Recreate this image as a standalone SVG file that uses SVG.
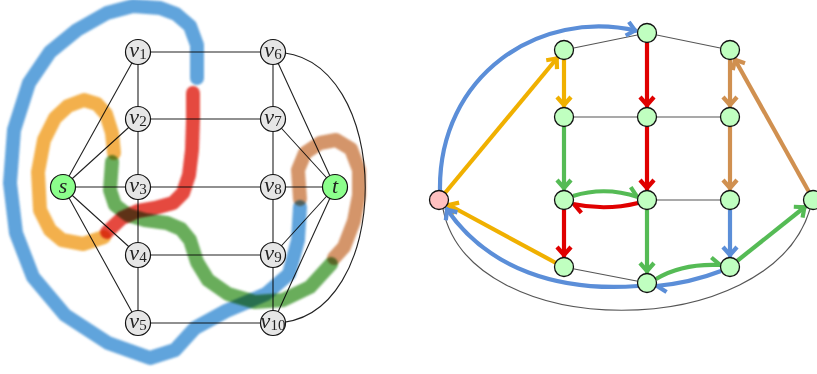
<svg xmlns="http://www.w3.org/2000/svg" width="817" height="374" viewBox="0 0 817 374">
<style>
.e{stroke:#222;stroke-width:1.1;fill:none}
.g{stroke:#555;stroke-width:1.2;fill:none}
.nl{fill:#e6e6e6;stroke:#111;stroke-width:1.2}
.nst{fill:#8cff8c;stroke:#111;stroke-width:1.2}
.nr{fill:#c0ffc0;stroke:#111;stroke-width:1.3}
.np{fill:#ffc0c0;stroke:#111;stroke-width:1.3}
.lb{font-family:"Liberation Serif",serif;font-style:italic;font-size:22px;fill:#222}
.sb{font-style:normal;font-size:15px}
.hl{fill:none;stroke-width:14;stroke-linecap:round;stroke-linejoin:round;mix-blend-mode:multiply;filter:url(#soft);opacity:0.9}
.a{fill:none;stroke-width:4.2}
.mk{fill:none;stroke-width:4.2;stroke-linecap:butt;stroke-linejoin:miter}
</style>
<defs>
<filter id="soft" x="-20%" y="-20%" width="140%" height="140%"><feGaussianBlur stdDeviation="1.1"/></filter>
<marker id="mB" markerUnits="userSpaceOnUse" orient="auto" overflow="visible" markerWidth="1" markerHeight="1"><path class="mk" stroke="#5b8ed8" d="M-10,-7 L-2,0 L-10,7"/></marker>
<marker id="mO" markerUnits="userSpaceOnUse" orient="auto" overflow="visible" markerWidth="1" markerHeight="1"><path class="mk" stroke="#f0b000" d="M-10,-7 L-2,0 L-10,7"/></marker>
<marker id="mR" markerUnits="userSpaceOnUse" orient="auto" overflow="visible" markerWidth="1" markerHeight="1"><path class="mk" stroke="#e00000" d="M-10,-7 L-2,0 L-10,7"/></marker>
<marker id="mG" markerUnits="userSpaceOnUse" orient="auto" overflow="visible" markerWidth="1" markerHeight="1"><path class="mk" stroke="#55bb55" d="M-10,-7 L-2,0 L-10,7"/></marker>
<marker id="mN" markerUnits="userSpaceOnUse" orient="auto" overflow="visible" markerWidth="1" markerHeight="1"><path class="mk" stroke="#d09050" d="M-10,-7 L-2,0 L-10,7"/></marker>
<marker id="hG" markerUnits="userSpaceOnUse" orient="auto" overflow="visible" markerWidth="1" markerHeight="1"><path class="mk" stroke="#55bb55" d="M-10,-7 L-1,0"/></marker>
<marker id="hR" markerUnits="userSpaceOnUse" orient="auto" overflow="visible" markerWidth="1" markerHeight="1"><path class="mk" stroke="#e00000" d="M-10,-7 L-1,0"/></marker>
<marker id="hB" markerUnits="userSpaceOnUse" orient="auto" overflow="visible" markerWidth="1" markerHeight="1"><path class="mk" stroke="#5b8ed8" d="M-10,-7 L-1,0"/></marker>
</defs>
<rect width="817" height="374" fill="#fff"/>

<!-- LEFT GRAPH -->
<g id="left-edges">
<path class="e" d="M63,187 L138,52 M63,187 L138,119 M63,187 L138,187 M63,187 L138,255 M63,187 L138,323"/>
<path class="e" d="M138,52 V323 M273,52 V323"/>
<path class="e" d="M138,52 H273 M138,119 H273 M138,187 H273 M138,255 H273 M138,323 H273"/>
<path class="e" d="M335,187 L273,52 M335,187 L273,119 M335,187 L273,187 M335,187 L273,255 M335,187 L273,323"/>
<path class="e" d="M273,52 C396,52 396,323 273,323"/>
</g>
<g id="left-highlights">
<path class="hl" stroke="#4f9ad8" d="M197,78 L197,45 L190,26 L176,14 L160,8 L133,6 L107,13 L77,30 L50,52 L29,83 L14,130 L10,183 L16,233 L33,277 L65,315 L108,343 L150,358 L175,350 L195,328 L226,311 L266,294 L289,274 L298,240 L300,207"/>
<path class="hl" stroke="#e2352a" d="M193,93 L193,120 L192,150 L189,175 L183,193 L173,203 L155,208 L138,211 L122,218 L107,232"/>
<path class="hl" stroke="#f2a838" d="M114,153 L112,133 L106,114 L97,104 L84,100 L68,106 L55,118 L44,140 L38,172 L40,210 L50,230 L62,240 L83,244 L104,237"/>
<path class="hl" stroke="#59a449" d="M112,162 L110,190 L115,205 L128,215 L145,220 L167,223 L181,229 L190,240 L197,262 L208,280 L228,294 L255,302 L283,300 L310,287 L331,264"/>
<path class="hl" stroke="#d08a5a" d="M300,199 L298,170 L305,153 L320,143 L336,140 L351,149 L359,170 L359,195 L354,221 L344,247 L334,258"/>
</g>
<g id="v1"><circle class="nl" cx="138" cy="52" r="12.5"/><text class="lb" x="138" y="57" text-anchor="middle">v<tspan class="sb" dy="2">1</tspan></text></g>
<g id="v2"><circle class="nl" cx="138" cy="119" r="12.5"/><text class="lb" x="138" y="124" text-anchor="middle">v<tspan class="sb" dy="2">2</tspan></text></g>
<g id="v3"><circle class="nl" cx="138" cy="187" r="12.5"/><text class="lb" x="138" y="192" text-anchor="middle">v<tspan class="sb" dy="2">3</tspan></text></g>
<g id="v4"><circle class="nl" cx="138" cy="255" r="12.5"/><text class="lb" x="138" y="260" text-anchor="middle">v<tspan class="sb" dy="2">4</tspan></text></g>
<g id="v5"><circle class="nl" cx="138" cy="323" r="12.5"/><text class="lb" x="138" y="328" text-anchor="middle">v<tspan class="sb" dy="2">5</tspan></text></g>
<g id="v6"><circle class="nl" cx="273" cy="52" r="12.5"/><text class="lb" x="273" y="57" text-anchor="middle">v<tspan class="sb" dy="2">6</tspan></text></g>
<g id="v7"><circle class="nl" cx="273" cy="119" r="12.5"/><text class="lb" x="273" y="124" text-anchor="middle">v<tspan class="sb" dy="2">7</tspan></text></g>
<g id="v8"><circle class="nl" cx="273" cy="187" r="12.5"/><text class="lb" x="273" y="192" text-anchor="middle">v<tspan class="sb" dy="2">8</tspan></text></g>
<g id="v9"><circle class="nl" cx="273" cy="255" r="12.5"/><text class="lb" x="273" y="260" text-anchor="middle">v<tspan class="sb" dy="2">9</tspan></text></g>
<g id="v10"><circle class="nl" cx="273" cy="323" r="12.5"/><text class="lb" x="273" y="328" text-anchor="middle">v<tspan class="sb" dy="2">10</tspan></text></g>
<g id="s"><circle class="nst" cx="63" cy="187" r="12.5"/><text class="lb" x="63" y="193" text-anchor="middle">s</text></g>
<g id="t"><circle class="nst" cx="335" cy="187" r="12.5"/><text class="lb" x="335" y="193" text-anchor="middle">t</text></g>

<!-- RIGHT GRAPH -->
<g id="right-connectors">
<path class="g" d="M564,50 L647,33 L730,50 M564,117 H730 M647,200 H730 M564,267 L647,283"/>
<path class="g" d="M443,209 C470,344 770,344 810,209"/>
<path class="a" stroke="#5b8ed8" marker-end="url(#mB)" d="M440,191 C438,75 540,8 637,31"/>
<path class="a" stroke="#f0b000" marker-end="url(#mO)" d="M445,193 L558,57"/>
<path class="a" stroke="#f0b000" marker-end="url(#mO)" d="M564,59 V107"/>
<path class="a" stroke="#e00000" marker-end="url(#mR)" d="M647,42 V107"/>
<path class="a" stroke="#d09050" marker-end="url(#mN)" d="M730,59 V107"/>
<path class="a" stroke="#55bb55" marker-end="url(#mG)" d="M564,126 V190"/>
<path class="a" stroke="#e00000" marker-end="url(#mR)" d="M647,126 V190"/>
<path class="a" stroke="#d09050" marker-end="url(#mN)" d="M730,126 V190"/>
<path class="a" stroke="#55bb55" marker-end="url(#hG)" d="M573,196 Q605,186 638,197"/>
<path class="a" stroke="#e00000" marker-end="url(#hR)" d="M638,203 Q606,211 573,204"/>
<path class="a" stroke="#e00000" marker-end="url(#mR)" d="M564,209 V257"/>
<path class="a" stroke="#55bb55" marker-end="url(#mG)" d="M647,209 V273"/>
<path class="a" stroke="#5b8ed8" marker-end="url(#mB)" d="M730,209 V257"/>
<path class="a" stroke="#55bb55" marker-end="url(#mG)" d="M737,261 L806,206"/>
<path class="a" stroke="#d09050" marker-end="url(#mN)" d="M809,192 L734,58"/>
<path class="a" stroke="#f0b000" marker-end="url(#mO)" d="M556,263 L447,204"/>
<path class="a" stroke="#5b8ed8" marker-end="url(#mB)" d="M638,286 C560,292 488,270 446,208"/>
<path class="a" stroke="#55bb55" marker-end="url(#hG)" d="M656,279 Q682,263 721,265"/>
<path class="a" stroke="#5b8ed8" marker-end="url(#hB)" d="M721,271 Q690,283 656,286"/>
</g>
<g id="r-src"><circle class="np" cx="439" cy="200" r="9.5"/></g>
<g id="r-a"><circle class="nr" cx="564" cy="50" r="9.5"/></g>
<g id="r-top"><circle class="nr" cx="647" cy="33" r="9.5"/></g>
<g id="r-c"><circle class="nr" cx="730" cy="50" r="9.5"/></g>
<g id="r-21"><circle class="nr" cx="564" cy="117" r="9.5"/></g>
<g id="r-22"><circle class="nr" cx="647" cy="117" r="9.5"/></g>
<g id="r-23"><circle class="nr" cx="730" cy="117" r="9.5"/></g>
<g id="r-31"><circle class="nr" cx="564" cy="200" r="9.5"/></g>
<g id="r-32"><circle class="nr" cx="647" cy="200" r="9.5"/></g>
<g id="r-33"><circle class="nr" cx="730" cy="200" r="9.5"/></g>
<g id="r-41"><circle class="nr" cx="564" cy="267" r="9.5"/></g>
<g id="r-42"><circle class="nr" cx="647" cy="283" r="9.5"/></g>
<g id="r-43"><circle class="nr" cx="730" cy="267" r="9.5"/></g>
<g id="r-sink"><circle class="nr" cx="813" cy="200" r="9.5"/></g>
</svg>
